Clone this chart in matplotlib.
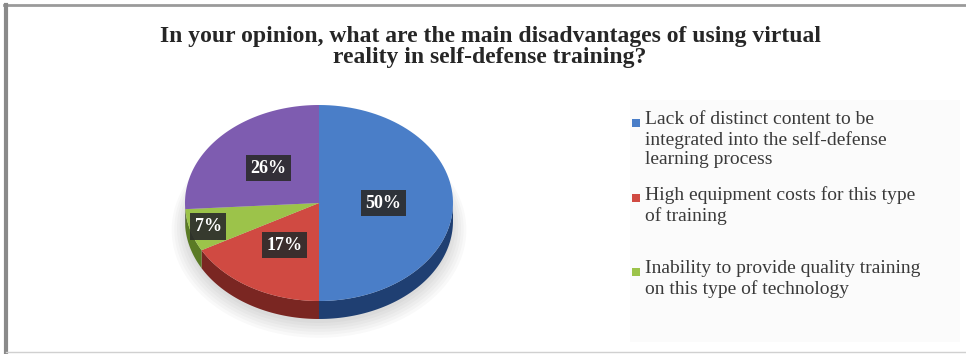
import numpy as np
import matplotlib.pyplot as plt
from matplotlib.patches import Polygon, Rectangle

title = ("In your opinion, what are the main disadvantages of using virtual\n"
         "reality in self-defense training?")
shares = [50, 17, 7, 26]
pct_labels = ["50%", "17%", "7%", "26%"]
legend_labels = [
    "Lack of distinct content to be\nintegrated into the self-defense\nlearning process",
    "High equipment costs for this type\nof training",
    "Inability to provide quality training\non this type of technology",
]
top_colors = ["#4a7ec8", "#d04a42", "#9cc34a", "#7e5cb0"]
side_colors = ["#1f3f72", "#7a2622", "#5a7a25", "#4a3470"]

W, H = 966, 354
fig = plt.figure(figsize=(W / 100, H / 100), dpi=100)
ax = fig.add_axes([0, 0, 1, 1])
ax.set_xlim(0, W)
ax.set_ylim(H, 0)
ax.axis("off")

# pie geometry in pixels (tilted ellipse + extruded side)
cx, cy, a, b, depth = 319, 203, 134, 98, 18
label_r = [0.48, 0.5, 0.86, 0.52]


def pt(theta_deg, r=1.0, dy=0.0):
    t = np.radians(theta_deg)
    return cx + r * a * np.sin(t), cy - r * b * np.cos(t) + dy


# soft shadow under the pie
for k in range(6):
    sx = np.linspace(0, 360, 120)
    xs, ys = pt(sx, 1.0 + 0.02 * k, depth + 4 + k)
    ax.add_patch(Polygon(np.column_stack([xs, ys]), closed=True,
                         fc="#000000", alpha=0.025, ec="none", zorder=1))

total = float(sum(shares))
bounds = np.concatenate([[0], np.cumsum(shares) / total * 360])

# visible side walls (front half of the ellipse)
for i in range(len(shares)):
    t0, t1 = max(bounds[i], 90), min(bounds[i + 1], 270)
    if t1 <= t0:
        continue
    th = np.linspace(t0, t1, 60)
    xt, yt = pt(th)
    xb, yb = pt(th[::-1], dy=depth)
    poly = np.column_stack([np.r_[xt, xb], np.r_[yt, yb]])
    ax.add_patch(Polygon(poly, closed=True, fc=side_colors[i], ec="none", zorder=2))

# top faces
for i in range(len(shares)):
    th = np.linspace(bounds[i], bounds[i + 1], 80)
    xs, ys = pt(th)
    poly = np.column_stack([np.r_[cx, xs], np.r_[cy, ys]])
    ax.add_patch(Polygon(poly, closed=True, fc=top_colors[i], ec="none", zorder=3))

# percentage labels
for i, lab in enumerate(pct_labels):
    mid = (bounds[i] + bounds[i + 1]) / 2
    lx, ly = pt(mid, label_r[i])
    ax.text(lx, ly, lab, ha="center", va="center", color="white",
            fontsize=13, fontweight="bold", family="Liberation Serif", zorder=5,
            bbox=dict(boxstyle="square,pad=0.25", fc="#2b2b2b", ec="none", alpha=0.9))

# title
ax.text(490, 47, title, ha="center", va="center", fontsize=17,
        fontweight="bold", family="Liberation Serif", color="#262626",
        linespacing=1.05, zorder=5)

# legend panel
ax.add_patch(Rectangle((630, 100), 330, 242, fc="#fbfbfb", ec="none", zorder=0))
legend_y = [123, 198, 272]
for lab, col, y in zip(legend_labels, top_colors, legend_y):
    ax.add_patch(Rectangle((632, y - 4), 8, 8, fc=col, ec="none", zorder=5))
    ax.text(645, y - 12, lab, ha="left", va="top", fontsize=14,
            family="Liberation Serif", color="#3a3a3a", linespacing=1.2, zorder=5)

# frame lines
ax.plot([4, W], [5, 5], color="#9a9a9a", lw=2, zorder=6)
ax.plot([6, 6], [5, H], color="#8a8a8a", lw=3, zorder=6)
ax.plot([6, W], [352, 352], color="#d0d0d0", lw=1, zorder=6)

fig.savefig("out.png", dpi=100, facecolor="white")
